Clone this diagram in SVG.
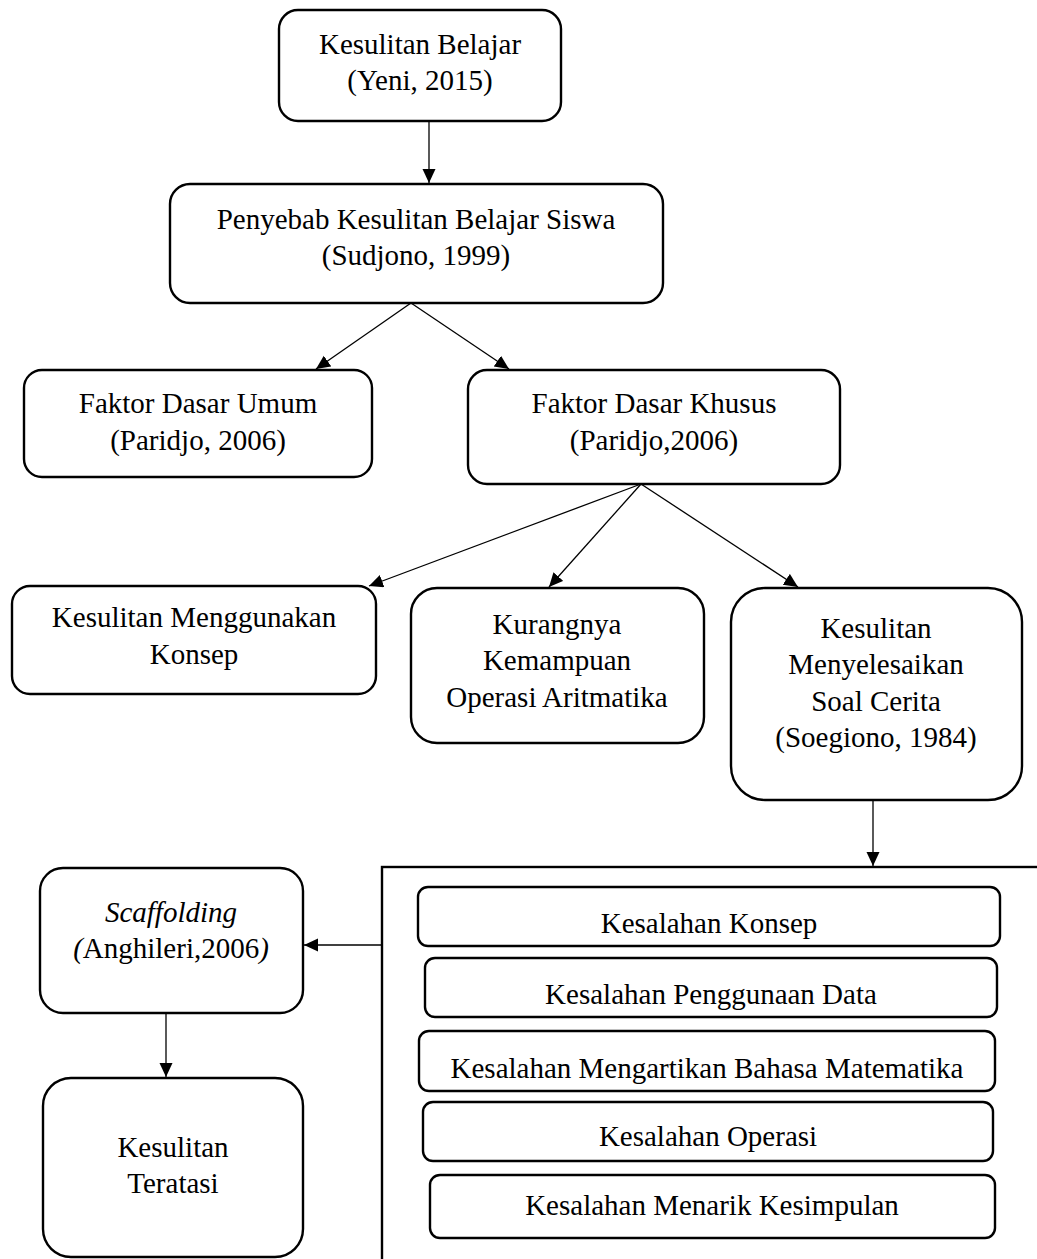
<svg xmlns="http://www.w3.org/2000/svg" width="1037" height="1259" viewBox="0 0 1037 1259">
<style>
  .box { fill: #fff; stroke: #000; stroke-width: 2.4; }
  .t { font-family: "Liberation Serif", "Times New Roman", serif; font-size: 29px; fill: #000; text-anchor: middle; }
  .i { font-style: italic; }
  .c { fill: none; stroke: #000; stroke-width: 1.3; }
</style>
<defs>
  <marker id="ah" markerUnits="userSpaceOnUse" markerWidth="15" markerHeight="14" refX="14" refY="6.5" orient="auto">
    <path d="M0,0 L14,6.5 L0,13 z" fill="#000"/>
  </marker>
</defs>
<rect width="1037" height="1259" fill="#fff"/>

<g id="connectors">
  <line class="c" x1="429" y1="121" x2="429" y2="183" marker-end="url(#ah)"/>
  <line class="c" x1="411" y1="303" x2="316" y2="369" marker-end="url(#ah)"/>
  <line class="c" x1="411" y1="303" x2="509" y2="369" marker-end="url(#ah)"/>
  <line class="c" x1="641" y1="484" x2="369" y2="586" marker-end="url(#ah)"/>
  <line class="c" x1="641" y1="484" x2="549" y2="587" marker-end="url(#ah)"/>
  <line class="c" x1="641" y1="484" x2="798" y2="587" marker-end="url(#ah)"/>
  <line class="c" x1="873" y1="800" x2="873" y2="866" marker-end="url(#ah)"/>
  <line class="c" x1="382" y1="945" x2="304" y2="945" marker-end="url(#ah)"/>
  <line class="c" x1="166" y1="1013" x2="166" y2="1077" marker-end="url(#ah)"/>
</g>

<g id="n1">
  <rect class="box" x="279" y="10" width="282" height="111" rx="19"/>
  <text class="t" x="420" y="54">Kesulitan Belajar</text>
  <text class="t" x="420" y="90">(Yeni, 2015)</text>
</g>
<g id="n2">
  <rect class="box" x="170" y="184" width="493" height="119" rx="20"/>
  <text class="t" x="416" y="229">Penyebab Kesulitan Belajar Siswa</text>
  <text class="t" x="416" y="265">(Sudjono, 1999)</text>
</g>
<g id="n3">
  <rect class="box" x="24" y="370" width="348" height="107" rx="18"/>
  <text class="t" x="198" y="413">Faktor Dasar Umum</text>
  <text class="t" x="198" y="450">(Paridjo, 2006)</text>
</g>
<g id="n4">
  <rect class="box" x="468" y="370" width="372" height="114" rx="19"/>
  <text class="t" x="654" y="413">Faktor Dasar Khusus</text>
  <text class="t" x="654" y="450">(Paridjo,2006)</text>
</g>
<g id="n5">
  <rect class="box" x="12" y="586" width="364" height="108" rx="18"/>
  <text class="t" x="194" y="627">Kesulitan Menggunakan</text>
  <text class="t" x="194" y="664">Konsep</text>
</g>
<g id="n6">
  <rect class="box" x="411" y="588" width="293" height="155" rx="26"/>
  <text class="t" x="557" y="634">Kurangnya</text>
  <text class="t" x="557" y="670">Kemampuan</text>
  <text class="t" x="557" y="707">Operasi Aritmatika</text>
</g>
<g id="n7">
  <rect class="box" x="731" y="588" width="291" height="212" rx="34"/>
  <text class="t" x="876" y="638">Kesulitan</text>
  <text class="t" x="876" y="674">Menyelesaikan</text>
  <text class="t" x="876" y="711">Soal Cerita</text>
  <text class="t" x="876" y="747">(Soegiono, 1984)</text>
</g>

<g id="group-box">
  <rect x="382" y="867" width="700" height="450" fill="none" stroke="#000" stroke-width="2.4"/>
</g>

<g id="e1">
  <rect class="box" x="418" y="887" width="582" height="59" rx="10"/>
  <text class="t" x="709" y="933">Kesalahan Konsep</text>
</g>
<g id="e2">
  <rect class="box" x="425" y="958" width="572" height="59" rx="10"/>
  <text class="t" x="711" y="1004">Kesalahan Penggunaan Data</text>
</g>
<g id="e3">
  <rect class="box" x="419" y="1031" width="576" height="60" rx="10"/>
  <text class="t" x="707" y="1078">Kesalahan Mengartikan Bahasa Matematika</text>
</g>
<g id="e4">
  <rect class="box" x="423" y="1102" width="570" height="59" rx="10"/>
  <text class="t" x="708" y="1146">Kesalahan Operasi</text>
</g>
<g id="e5">
  <rect class="box" x="430" y="1175" width="565" height="63" rx="10"/>
  <text class="t" x="712" y="1215">Kesalahan Menarik Kesimpulan</text>
</g>

<g id="n8">
  <rect class="box" x="40" y="868" width="263" height="145" rx="23"/>
  <text class="t i" x="171" y="922">Scaffolding</text>
  <text class="t" x="171" y="958"><tspan class="i">(</tspan>Anghileri,2006<tspan class="i">)</tspan></text>
</g>
<g id="n9">
  <rect class="box" x="43" y="1078" width="260" height="179" rx="28"/>
  <text class="t" x="173" y="1157">Kesulitan</text>
  <text class="t" x="173" y="1193">Teratasi</text>
</g>
</svg>
